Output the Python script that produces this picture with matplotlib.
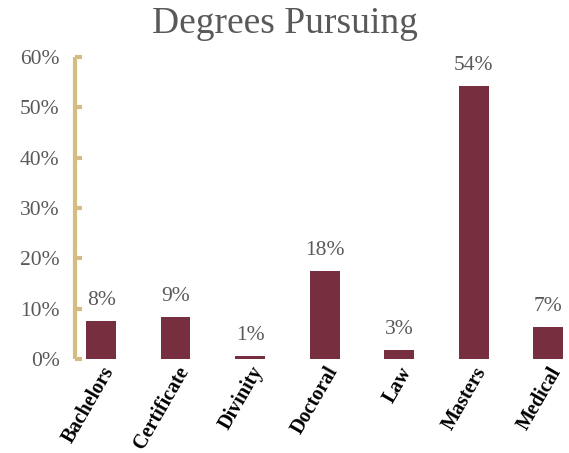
import matplotlib
matplotlib.use("Agg")
import matplotlib.pyplot as plt
from matplotlib.ticker import FuncFormatter, MultipleLocator

categories = ["Bachelors", "Certificate", "Divinity", "Doctoral", "Law", "Masters", "Medical"]
values = [7.6, 8.4, 0.6, 17.5, 1.8, 54.2, 6.4]
value_labels = ["8%", "9%", "1%", "18%", "3%", "54%", "7%"]

plt.rcParams['font.family'] = ['Liberation Serif', 'DejaVu Serif']

fig = plt.figure(figsize=(5.69, 4.53), dpi=100)
ax = fig.add_axes([75/569, 1 - 359/453, (569 - 75)/569, (359 - 57)/453])

bar_color = "#772e3f"
axis_color = "#d4bc83"
gray = "#595959"

x = list(range(len(categories)))
ax.bar(x, values, width=0.4, color=bar_color)

for xi, v, lab in zip(x, values, value_labels):
    ax.annotate(lab, (xi, v), xytext=(0, 8), textcoords="offset points",
                ha="center", va="bottom", fontsize=15.5, color=gray)

ax.set_ylim(0, 60)
ax.set_xlim(-0.35, 6.28)
ax.yaxis.set_major_locator(MultipleLocator(10))
ax.yaxis.set_major_formatter(FuncFormatter(lambda v, p: f"{int(v)}%"))

for s in ["top", "right", "bottom"]:
    ax.spines[s].set_visible(False)
ax.spines["left"].set_color(axis_color)
ax.spines["left"].set_linewidth(3)
ax.spines["left"].set_capstyle("butt")

ax.tick_params(axis="y", direction="in", length=5, width=3, color=axis_color,
               labelsize=15.5, labelcolor=gray, pad=11)
ax.set_xticks(x)
ax.set_xticklabels(categories, rotation=60, ha="right", rotation_mode="anchor",
                   fontsize=14.5, fontweight="bold", color="black")
ax.tick_params(axis="x", length=0, pad=3)

fig.suptitle("Degrees Pursuing", fontsize=27, color=gray, y=0.985, va="top")

fig.savefig("out.png", dpi=100)
